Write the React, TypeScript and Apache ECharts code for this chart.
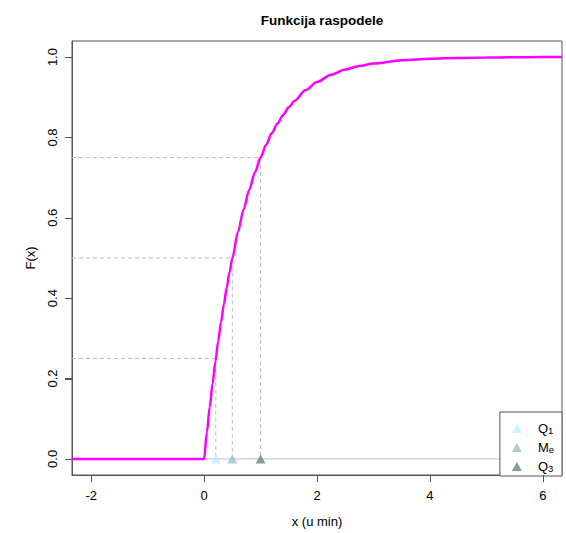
import React, { useEffect, useRef } from "react";
import * as echarts from "echarts";

// Distribution function F(x)
const cdfX = [-2.34, 0, 0.05, 0.1, 0.15, 0.2, 0.25, 0.3, 0.35, 0.4, 0.45, 0.5, 0.6, 0.7, 0.8, 0.9, 1.0, 1.1, 1.2, 1.3, 1.4, 1.5, 1.6, 1.8, 2.0, 2.25, 2.5, 2.75, 3.0, 3.5, 4.0, 4.5, 5.0, 5.5, 6.0, 6.34];
const cdfY = [0, 0, 0.067, 0.129, 0.188, 0.242, 0.293, 0.340, 0.384, 0.426, 0.464, 0.500, 0.565, 0.621, 0.670, 0.713, 0.750, 0.782, 0.811, 0.835, 0.856, 0.875, 0.891, 0.918, 0.938, 0.956, 0.969, 0.978, 0.984, 0.992, 0.996, 0.998, 0.999, 0.9995, 1.0, 1.0];

// Quartiles
const quartileNames = ["Q1", "Me", "Q3"];
const quartileProbs = [0.25, 0.5, 0.75];
const quartileX = [0.2075, 0.5, 1.0];
const quartileColors = ["#BFEFFF", "#9AC0CD", "#68838B"];

const xTicks = [-2, 0, 2, 4, 6];
const yTicks = [0, 0.2, 0.4, 0.6, 0.8, 1.0];
const xMin = -2.34;
const xMax = 6.34;
const yMin = -0.04;
const yMax = 1.04;

const TICK_LEN = 7;
const TICK_COLOR = "#555";

const legendLabels: Record<string, string> = {
  Q1: "{m|Q}{s|1}",
  Me: "{m|M}{s|e}",
  Q3: "{m|Q}{s|3}",
};

export default function App() {
  const ref = useRef<HTMLDivElement>(null);

  useEffect(() => {
    if (!ref.current) return;
    const chart = echarts.init(ref.current, null, { renderer: "svg" });

    const guideSeries = quartileProbs.map((p, i) => ({
      type: "line",
      silent: true,
      symbol: "none",
      data: [
        [xMin, p],
        [quartileX[i], p],
        [quartileX[i], 0],
      ],
      lineStyle: { color: "#BEBEBE", width: 1, type: [4, 3] },
      z: 1,
    }));

    const markerSeries = quartileNames.map((name, i) => ({
      type: "scatter",
      name,
      symbol: "triangle",
      symbolSize: [10, 9],
      data: [[quartileX[i], 0]],
      itemStyle: { color: quartileColors[i] },
      z: 5,
    }));

    chart.setOption({
      animation: false,
      backgroundColor: "#fff",
      textStyle: { fontFamily: "Liberation Sans, Arial, sans-serif" },
      title: {
        text: "Funkcija raspodele",
        left: 317,
        top: 8,
        textAlign: "center",
        textStyle: { fontSize: 13.5, fontWeight: "bold", color: "#000" },
      },
      grid: {
        left: 72,
        right: 4,
        top: 41,
        bottom: 57,
        show: true,
        borderColor: TICK_COLOR,
        borderWidth: 1,
        backgroundColor: "transparent",
      },
      legend: {
        orient: "vertical",
        right: 4,
        bottom: 57,
        data: quartileNames.map((n) => ({ name: n, icon: "triangle" })),
        itemWidth: 10,
        itemHeight: 9,
        itemGap: 2,
        padding: [6, 8, 3, 12],
        backgroundColor: "#fff",
        borderColor: TICK_COLOR,
        borderWidth: 1,
        borderRadius: 0,
        formatter: (n: string) => legendLabels[n],
        textStyle: {
          padding: [0, 0, 0, 11],
          rich: {
            m: { fontSize: 13, color: "#000", lineHeight: 13 },
            s: { fontSize: 9.5, color: "#000", verticalAlign: "bottom", padding: [7, 0, 0, 0], lineHeight: 13 },
          },
        },
      },
      xAxis: {
        type: "value",
        min: xMin,
        max: xMax,
        position: "bottom",
        name: "x (u min)",
        nameLocation: "middle",
        nameGap: 40,
        nameTextStyle: { fontSize: 13, color: "#000" },
        splitLine: { show: false },
        axisLine: { show: true, onZero: false, lineStyle: { color: TICK_COLOR, width: 1 } },
        axisTick: { show: true, inside: false, length: TICK_LEN, customValues: xTicks, lineStyle: { color: TICK_COLOR, width: 1 } },
        axisLabel: { customValues: xTicks, fontSize: 13, color: "#000", margin: 14, formatter: (v: number) => String(v) },
      },
      yAxis: {
        type: "value",
        min: yMin,
        max: yMax,
        position: "left",
        name: "F(x)",
        nameLocation: "middle",
        nameRotate: 90,
        nameGap: 35,
        nameTextStyle: { fontSize: 13, color: "#000" },
        splitLine: { show: false },
        axisLine: { show: true, onZero: false, lineStyle: { color: TICK_COLOR, width: 1 } },
        axisTick: { show: true, inside: false, length: TICK_LEN, customValues: yTicks, lineStyle: { color: TICK_COLOR, width: 1 } },
        axisLabel: { customValues: yTicks, fontSize: 13, color: "#000", rotate: 90, margin: 13, formatter: (v: number) => v.toFixed(1) },
      },
      series: [
        {
          type: "line",
          silent: true,
          symbol: "none",
          data: [
            [xMin, 0],
            [xMax, 0],
          ],
          lineStyle: { color: "#BEBEBE", width: 1 },
          z: 1,
        },
        ...guideSeries,
        {
          type: "line",
          name: "F",
          symbol: "none",
          smooth: 0.3,
          smoothMonotone: "x",
          data: cdfX.map((x, i) => [x, cdfY[i]]),
          lineStyle: { color: "#FF00FF", width: 2.5 },
          z: 3,
        },
        ...markerSeries,
      ],
    });

    // Filled tick marks on the outer side of the plot box, placed via the axes' scales
    const tickRects: any[] = [];
    xTicks.forEach((v) => {
      const pt = chart.convertToPixel({ xAxisIndex: 0, yAxisIndex: 0 }, [v, yMin]) as number[];
      if (!pt || !isFinite(pt[0])) return;
      tickRects.push({
        type: "rect",
        silent: true,
        z: 100,
        shape: { x: Math.round(pt[0]), y: Math.round(pt[1]), width: 1, height: TICK_LEN },
        style: { fill: TICK_COLOR },
      });
    });
    yTicks.forEach((v) => {
      const pt = chart.convertToPixel({ xAxisIndex: 0, yAxisIndex: 0 }, [xMin, v]) as number[];
      if (!pt || !isFinite(pt[1])) return;
      tickRects.push({
        type: "rect",
        silent: true,
        z: 100,
        shape: { x: Math.round(pt[0]) - TICK_LEN, y: Math.round(pt[1]), width: TICK_LEN, height: 1 },
        style: { fill: TICK_COLOR },
      });
    });
    chart.setOption({ graphic: { elements: tickRects } });

    return () => chart.dispose();
  }, []);

  return <div ref={ref} style={{ position: "fixed", left: 0, top: 0, width: 566, height: 533 }} />;
}
